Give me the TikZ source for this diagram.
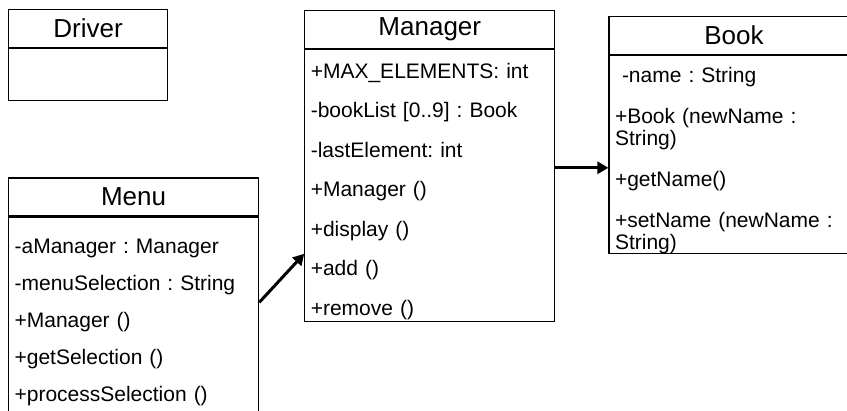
\documentclass[tikz,border=0pt]{standalone}
\usepackage{fontspec}
\setmainfont{Liberation Sans}
\usepackage{tikz}
\usetikzlibrary{positioning, arrows.meta}
\frenchspacing

\begin{document}
\begin{tikzpicture}
\tikzstyle{classname} = [draw=black, line width=1.2pt, minimum height=38pt, inner sep=0pt, font=\fontsize{26}{30}\selectfont]
\tikzstyle{classbody} = [draw=black, line width=1.2pt, inner xsep=6pt, inner ysep=0pt, align=left, font=\fontsize{21}{22}\selectfont]
\tikzstyle{assoc} = [-{Triangle[length=11pt, width=12pt]}, line width=3pt]

\useasboundingbox (0,0) rectangle (847pt,-411pt);

% Создание классов
\node[classname, minimum width=159pt, anchor=north west] (driver) at (8pt,-9pt) {Driver};
\node[classbody, text width=147pt, minimum height=52pt] (driverbody) [below=0pt of driver] {};

\node[classname, minimum width=250pt] (menu) [below=76pt of driverbody.south west, anchor=north west] {Menu};
\node[classbody, text width=238pt, text height=36.5pt, text depth=170pt, font=\fontsize{21}{37}\selectfont] (menubody) [below=0pt of menu]
  {-aManager : Manager\\ -menuSelection : String\\ +Manager ()\\ +getSelection ()\\ +processSelection ()};

\node[classname, minimum width=250pt] (manager) [right=136pt of driver.north east, anchor=north west, yshift=-1pt] {Manager};
\node[classbody, text width=238pt, text height=28.5pt, text depth=243.5pt, font=\fontsize{21}{39.5}\selectfont] (managerbody) [below=0pt of manager]
  {+MAX\_ELEMENTS: int\\ -bookList [0..9] : Book\\ -lastElement: int\\ +Manager ()\\ +display ()\\ +add ()\\ +remove ()};

\node[classname, minimum width=250pt] (book) [right=53pt of manager.north east, anchor=north west, yshift=-6pt] {Book};
\node[classbody, text width=238pt, text height=26.5pt, text depth=171.5pt] (bookbody) [below=0pt of book]
  {\ -name : String\\[19pt] +Book (newName :\\ String)\\[19pt] +getName()\\[19pt] +setName (newName :\\ String)};

% Создание связей
\draw[assoc] ([yshift=18pt]menubody.east) -- ([yshift=-68pt]managerbody.west);
\draw[assoc] ([yshift=18pt]managerbody.east) -- ([yshift=-13pt]bookbody.west);

\end{tikzpicture}
\end{document}
